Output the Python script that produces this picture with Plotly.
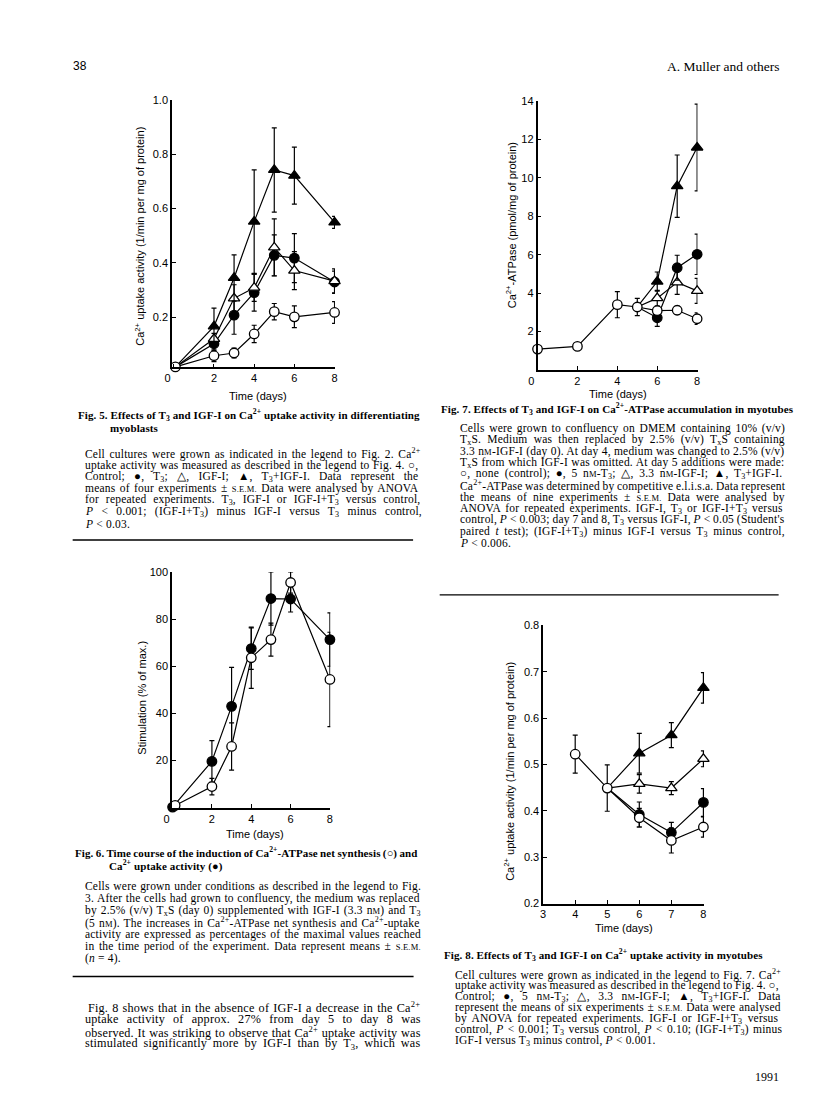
import re
import plotly.graph_objects as go

W, H = 816, 1105
SERIF = "Liberation Serif, Times New Roman, serif"
SANS = "Liberation Sans, Arial, sans-serif"

# ---------------- data ----------------
# Fig. 5  (Ca2+ uptake, differentiating myoblasts)
f5_origin_day = [0.08]
f5_origin_val = [0.018]
f5_days = [2, 3, 4, 5, 6, 8]
f5_control = [0.059, 0.069, 0.139, 0.221, 0.202, 0.218]
f5_control_err = [0.022, 0.018, 0.032, 0.030, 0.040, 0.040]
f5_t3 = [0.103, 0.208, 0.291, 0.428, 0.418, 0.330]
f5_t3_err = [0.025, 0.070, 0.068, 0.075, 0.090, 0.040]
f5_igf = [0.121, 0.270, 0.309, 0.457, 0.372, 0.333]
f5_igf_err = [0.020, 0.050, 0.050, 0.105, 0.070, 0.045]
f5_both = [0.167, 0.345, 0.552, 0.742, 0.721, 0.549]
f5_both_err = [0.067, 0.085, 0.190, 0.155, 0.105, 0.022]

# Fig. 7  (Ca2+-ATPase accumulation in myotubes)
f7_control_days = [0, 2, 4, 5, 6, 7, 8]
f7_control = [1.09, 1.23, 3.40, 3.28, 3.09, 3.11, 2.67]
f7_control_err = [0, 0, 0.68, 0.45, 0.20, 0.22, 0.30]
f7_branch_day = 5
f7_days = [6, 7, 8]
f7_t3 = [2.72, 5.32, 6.02]
f7_t3_err = [0.45, 0.65, 1.05]
f7_igf = [3.74, 4.56, 4.12]
f7_igf_err = [0.40, 0.62, 0.65]
f7_both = [4.60, 9.56, 11.57]
f7_both_err = [0.50, 1.62, 2.25]

# Fig. 6  (time course, % of max.)
f6_synth_days = [0.13, 2, 3, 4, 5, 6, 8]
f6_synth = [1.0, 9.0, 26.0, 63.6, 71.3, 95.5, 54.4]
f6_synth_err = [0, 3.5, 10.0, 13.0, 7.0, 4.5, 20.0]
f6_uptake_days = [0, 2, 3, 4, 5, 6, 8]
f6_uptake = [0.3, 19.7, 43.0, 67.5, 88.7, 88.5, 71.3]
f6_uptake_err = [0, 8.8, 16.5, 8.8, 11.3, 5.5, 11.3]

# Fig. 8  (Ca2+ uptake in myotubes)
f8_control_days = [4, 5, 6, 7, 8]
f8_control = [0.522, 0.449, 0.385, 0.336, 0.365]
f8_control_err = [0.041, 0.050, 0.020, 0.027, 0.022]
f8_branch_day = 5
f8_days = [6, 7, 8]
f8_t3 = [0.392, 0.353, 0.418]
f8_t3_err = [0.027, 0.022, 0.030]
f8_igf = [0.458, 0.449, 0.512]
f8_igf_err = [0.020, 0.014, 0.017]
f8_both = [0.524, 0.563, 0.665]
f8_both_err = [0.043, 0.027, 0.033]

# tick labels
x_ticks_0_8 = [0, 2, 4, 6, 8]
x_ticks_3_8 = [3, 4, 5, 6, 7, 8]
f5_yticks = [0.2, 0.4, 0.6, 0.8, 1.0]
f7_yticks = [2, 4, 6, 8, 10, 12, 14]
f6_yticks = [20, 40, 60, 80, 100]
f8_yticks = [0.2, 0.3, 0.4, 0.5, 0.6, 0.7, 0.8]

# ---------------- text ----------------
T3 = "T<sub>3</sub>"
TX = "T<sub>x</sub>"
CA = "Ca<sup>2+</sup>"
NM = "n<span style='font-size:8.5px'>M</span>"
SEM = "<span style='font-size:8.5px'>S.E.M.</span>"
P = "<i>P</i>"

f5_title = [f"Fig. 5. Effects of {T3} and IGF-I on {CA} uptake activity in differentiating",
            "myoblasts"]
f5_caption = [
    f"Cell cultures were grown as indicated in the legend to Fig. 2. {CA}",
    "uptake activity was measured as described in the legend to Fig. 4. ○,",
    f"Control; ●, {T3}; △, IGF-I; ▲, {T3}+IGF-I. Data represent the",
    f"means of four experiments ± {SEM} Data were analysed by ANOVA",
    f"for repeated experiments. {T3}, IGF-I or IGF-I+{T3} versus control,",
    f"{P} < 0.001; (IGF-I+{T3}) minus IGF-I versus {T3} minus control,",
    f"{P} < 0.03.",
]
f7_title = [f"Fig. 7. Effects of {T3} and IGF-I on {CA}-ATPase accumulation in myotubes"]
f7_caption = [
    "Cells were grown to confluency on DMEM containing 10% (v/v)",
    f"{TX}S. Medium was then replaced by 2.5% (v/v) {TX}S containing",
    f"3.3 {NM}-IGF-I (day 0). At day 4, medium was changed to 2.5% (v/v)",
    f"{TX}S from which IGF-I was omitted. At day 5 additions were made:",
    f"○, none (control); ●, 5 {NM}-{T3}; △, 3.3 {NM}-IGF-I; ▲, {T3}+IGF-I.",
    f"{CA}-ATPase was determined by competitive e.l.i.s.a. Data represent",
    f"the means of nine experiments ± {SEM} Data were analysed by",
    f"ANOVA for repeated experiments. IGF-I, {T3} or IGF-I+{T3} versus",
    f"control, {P} < 0.003; day 7 and 8, {T3} versus IGF-I, {P} < 0.05 (Student's",
    f"paired <i>t</i> test); (IGF-I+{T3}) minus IGF-I versus {T3} minus control,",
    f"{P} < 0.006.",
]
f6_title = [f"Fig. 6. Time course of the induction of {CA}-ATPase net synthesis (○) and",
            f"{CA} uptake activity (●)"]
f6_caption = [
    "Cells were grown under conditions as described in the legend to Fig.",
    "3. After the cells had grown to confluency, the medium was replaced",
    f"by 2.5% (v/v) {TX}S (day 0) supplemented with IGF-I (3.3 {NM}) and {T3}",
    f"(5 {NM}). The increases in {CA}-ATPase net synthesis and {CA}-uptake",
    "activity are expressed as percentages of the maximal values reached",
    f"in the time period of the experiment. Data represent means ± {SEM}",
    "(<i>n</i> = 4).",
]
f8_title = [f"Fig. 8. Effects of {T3} and IGF-I on {CA} uptake activity in myotubes"]
f8_caption = [
    f"Cell cultures were grown as indicated in the legend to Fig. 7. {CA}",
    "uptake activity was measured as described in the legend to Fig. 4. ○,",
    f"Control; ●, 5 {NM}-{T3}; △, 3.3 {NM}-IGF-I; ▲, {T3}+IGF-I. Data",
    f"represent the means of six experiments ± {SEM} Data were analysed",
    f"by ANOVA for repeated experiments. IGF-I or IGF-I+{T3} versus",
    f"control, {P} < 0.001; {T3} versus control, {P} < 0.10; (IGF-I+{T3}) minus",
    f"IGF-I versus {T3} minus control, {P} < 0.001.",
]
paragraph = [
    f"Fig. 8 shows that in the absence of IGF-I a decrease in the {CA}",
    "uptake activity of approx. 27% from day 5 to day 8 was",
    f"observed. It was striking to observe that {CA} uptake activity was",
    f"stimulated significantly more by IGF-I than by {T3}, which was",
]
ytitle_uptake = f"{CA} uptake activity (1/min per mg of protein)"
ytitle_atpase = f"{CA}-ATPase (pmol/mg of protein)"
ytitle_stim = "Stimulation (% of max.)"
xtitle = "Time (days)"

# ---------------- text measuring (Times metrics, 1/1000 em) ----------------
_TW = {' ': 250, '!': 333, '%': 833, "'": 333, '(': 333, ')': 333, '+': 564, ',': 250,
       '-': 333, '.': 250, '/': 278, ':': 278, ';': 278, '<': 564, '=': 564, '>': 564,
       '±': 564, '○': 800, '●': 800, '△': 800, '▲': 800}
for c in '0123456789':
    _TW[c] = 500
_TW.update(dict(zip('ABCDEFGHIJKLMNOPQRSTUVWXYZ',
                    [722, 667, 667, 722, 611, 556, 722, 722, 333, 389, 722, 611, 889, 722, 722,
                     556, 722, 667, 556, 611, 722, 722, 944, 722, 722, 611])))
_TW.update(dict(zip('abcdefghijklmnopqrstuvwxyz',
                    [444, 500, 444, 500, 444, 333, 500, 500, 278, 278, 500, 278, 778, 500, 500,
                     500, 500, 333, 389, 278, 500, 500, 722, 500, 500, 444])))

TAG = re.compile(r"(</?(?:sub|sup|span|i|b)(?:\s[^<>]*)?>)")


def measure(html, size, bold=False):
    toks = TAG.split(html)
    stack = [1.0]
    w = 0.0
    nch = 0
    nsp = 0
    k = 1.06 if bold else 1.0
    for tok in toks:
        if TAG.fullmatch(tok):
            t = tok.lower()
            if t.startswith("<sub") or t.startswith("<sup"):
                stack.append(stack[-1] * 0.7)
            elif t.startswith("<span"):
                m = re.search(r"font-size:\s*([\d.]+)px", t)
                stack.append(float(m.group(1)) / size if m else stack[-1])
            elif t.startswith("</sub") or t.startswith("</sup") or t.startswith("</span"):
                if len(stack) > 1:
                    stack.pop()
        else:
            for ch in tok:
                w += _TW.get(ch, 500) / 1000.0 * size * stack[-1] * k
                nch += 1
                if ch == " ":
                    nsp += 1
    return w, nch, nsp


def justify(html, size, width, bold=False, ls=0.2):
    w, nch, nsp = measure(html, size, bold)
    natural = w + nch * ls
    ws = (width - natural) / max(nsp, 1)
    ws = max(-0.5, min(ws, 6.0))
    return f"<span style='letter-spacing:{ls}px;word-spacing:{ws:.2f}px'>{html}</span>"


# ---------------- helpers ----------------
def fx(px):
    return px / W


def fy(py):
    return 1 - py / H


OPEN_C = dict(symbol="circle", size=9.5, color="white", line=dict(color="black", width=1.3))
FILL_C = dict(symbol="circle", size=9.5, color="black", line=dict(color="black", width=1.3))
OPEN_T = dict(symbol="triangle-up", size=10, color="white", line=dict(color="black", width=1.3))
FILL_T = dict(symbol="triangle-up", size=10, color="black", line=dict(color="black", width=1.3))

fig = go.Figure()


def path(xs, ys, ax):
    fig.add_trace(go.Scatter(x=xs, y=ys, mode="lines", xaxis="x" + ax, yaxis="y" + ax,
                             line=dict(color="black", width=1.2), hoverinfo="skip",
                             showlegend=False, cliponaxis=False))


def points(xs, ys, errs, style, ax):
    fig.add_trace(go.Scatter(x=xs, y=ys, mode="markers", xaxis="x" + ax, yaxis="y" + ax,
                             marker=style, showlegend=False, cliponaxis=False,
                             error_y=dict(type="data", array=errs, color="black",
                                          thickness=1.2, width=2.5)))


# Fig 5 (axis "")
ax = ""
for vals in (f5_control, f5_t3, f5_igf, f5_both):
    path(f5_origin_day + f5_days, f5_origin_val + vals, ax)
points(f5_origin_day, f5_origin_val, [0], OPEN_C, ax)
points(f5_days, f5_control, f5_control_err, OPEN_C, ax)
points(f5_days, f5_t3, f5_t3_err, FILL_C, ax)
points(f5_days, f5_igf, f5_igf_err, OPEN_T, ax)
points(f5_days, f5_both, f5_both_err, FILL_T, ax)

# Fig 7 (axis "2")
ax = "2"
bi = f7_control_days.index(f7_branch_day)
path(f7_control_days, f7_control, ax)
for vals in (f7_t3, f7_igf, f7_both):
    path([f7_branch_day] + f7_days, [f7_control[bi]] + vals, ax)
points(f7_days, f7_both, f7_both_err, FILL_T, ax)
points(f7_days, f7_igf, f7_igf_err, OPEN_T, ax)
points(f7_days, f7_t3, f7_t3_err, FILL_C, ax)
points(f7_control_days, f7_control, f7_control_err, OPEN_C, ax)

# Fig 6 (axis "3")
ax = "3"
path(f6_uptake_days, f6_uptake, ax)
path(f6_synth_days, f6_synth, ax)
points(f6_uptake_days, f6_uptake, f6_uptake_err, FILL_C, ax)
points(f6_synth_days, f6_synth, f6_synth_err, OPEN_C, ax)

# Fig 8 (axis "4")
ax = "4"
bi = f8_control_days.index(f8_branch_day)
path(f8_control_days, f8_control, ax)
for vals in (f8_t3, f8_igf, f8_both):
    path([f8_branch_day] + f8_days, [f8_control[bi]] + vals, ax)
points(f8_days, f8_both, f8_both_err, FILL_T, ax)
points(f8_days, f8_igf, f8_igf_err, OPEN_T, ax)
points(f8_days, f8_t3, f8_t3_err, FILL_C, ax)
points(f8_control_days, f8_control, f8_control_err, OPEN_C, ax)

common = dict(showline=True, linecolor="black", linewidth=1.5, ticks="inside", ticklen=4,
              tickwidth=1.3, tickcolor="black", showgrid=False, zeroline=False,
              tickfont=dict(family=SANS, size=11, color="black"), fixedrange=True)


def tick_label(v):
    # the origin label sits a little left of the axis corner, as in the print
    return "0\u2007\u2007" if v == 0 else str(v)


def xaxis(px0, px1, rng, tv, anchor):
    return dict(domain=[fx(px0), fx(px1)], range=rng, tickvals=tv,
                ticktext=[tick_label(v) for v in tv], anchor=anchor, **common)


def yaxis(py_bottom, py_top, rng, tv, anchor, fmt):
    return dict(domain=[fy(py_bottom), fy(py_top)], range=rng, tickvals=tv,
                ticktext=[fmt.format(v) for v in tv], anchor=anchor, **common)


ann = []


def line_text(txt, x, y, size=11, family=SERIF, anchor="left", angle=0):
    ann.append(dict(text=txt, x=fx(x), y=fy(y), xref="paper", yref="paper",
                    xanchor=anchor, yanchor="middle", showarrow=False, textangle=angle,
                    font=dict(size=size, family=family, color="black")))


def block(lines, x, right, y0, step, size=11.5, bold=False, indent_first=None,
          indent_rest=None, justify_last=False, ls=0.2):
    n = len(lines)
    for i, t in enumerate(lines):
        xx = x
        if i == 0 and indent_first is not None:
            xx = indent_first
        if i > 0 and indent_rest is not None:
            xx = indent_rest
        html = f"<b>{t}</b>" if bold else t
        if i < n - 1 or justify_last:
            html = justify(html, size, right - xx, bold=bold, ls=ls)
        else:
            html = f"<span style='letter-spacing:{ls}px'>{html}</span>"
        line_text(html, xx, y0 + i * step, size=size)


# headers / footers
line_text("38", 55, 52.5, size=12, family=SANS)
line_text("A. Muller and others", 658, 53.5, size=13.5)
line_text("1991", 775, 1075, size=12, anchor="right")

# axis titles
line_text(ytitle_uptake, 124, 225, size=11, family=SANS, anchor="center", angle=-90)
line_text(ytitle_atpase, 501, 214, size=11, family=SANS, anchor="center", angle=-90)
line_text(ytitle_stim, 127, 691, size=11, family=SANS, anchor="center", angle=-90)
line_text(ytitle_uptake, 499.5, 766, size=11, family=SANS, anchor="center", angle=-90)
line_text(xtitle, 245, 386.5, size=11, family=SANS, anchor="center")
line_text(xtitle, 610, 384, size=11, family=SANS, anchor="center")
line_text(xtitle, 241.5, 829, size=11, family=SANS, anchor="center")
line_text(xtitle, 616.5, 924.5, size=11, family=SANS, anchor="center")

# captions
block(f5_title, 60, 402, 405, 13.3, size=11, bold=True, indent_rest=92, ls=0.1)
block(f5_caption, 66.5, 402, 444.3, 11.8)
block(f7_title, 428, 773, 399, 13, size=11, bold=True, ls=0.1)
block(f7_caption, 448, 773, 419, 11.6)
block(f6_title, 57, 402.5, 848, 13.3, size=11, bold=True, indent_rest=91, ls=0.1)
block(f6_caption, 66.5, 402.5, 882.5, 12.1)
block(f8_title, 431, 769, 951.7, 13, size=11, bold=True, ls=0.1)
block(f8_caption, 443, 769, 970.7, 11.3)
block(paragraph, 66.5, 402.5, 1003.5, 12.6, size=12.2, indent_first=70, justify_last=True)

shapes = [
    dict(type="line", xref="paper", yref="paper", x0=fx(56.5), x1=fx(402), y0=fy(531.7), y1=fy(531.7),
         line=dict(color="black", width=1.4)),
    dict(type="line", xref="paper", yref="paper", x0=fx(429), x1=fx(773), y0=fy(587.3), y1=fy(587.3),
         line=dict(color="black", width=1.4)),
    dict(type="line", xref="paper", yref="paper", x0=fx(56.5), x1=fx(402.5), y0=fy(973), y1=fy(973),
         line=dict(color="black", width=1.4)),
]

fig.update_layout(
    width=W, height=H, margin=dict(l=0, r=0, t=0, b=0),
    paper_bgcolor="white", plot_bgcolor="white", showlegend=False,
    xaxis=xaxis(157.3, 322.7, [-0.09, 8.02], x_ticks_0_8, "y"),
    yaxis=yaxis(357.3, 86.7, [0.016, 1.0], f5_yticks, "x", "{:.1f}"),
    xaxis2=xaxis(528.3, 690.7, [0, 8.02], x_ticks_0_8, "y2"),
    yaxis2=yaxis(360, 87.7, [0, 14], f7_yticks, "x2", "{:d}"),
    xaxis3=xaxis(157.3, 318, [-0.03, 8.02], x_ticks_0_8, "y3"),
    yaxis3=yaxis(802.5, 564, [0, 100], f6_yticks, "x3", "{:d}"),
    xaxis4=xaxis(534, 697.3, [3, 8.02], x_ticks_3_8, "y4"),
    yaxis4=yaxis(899.3, 618, [0.2, 0.8], f8_yticks, "x4", "{:.1f}"),
    annotations=ann, shapes=shapes,
)

fig.write_html("out.html")
